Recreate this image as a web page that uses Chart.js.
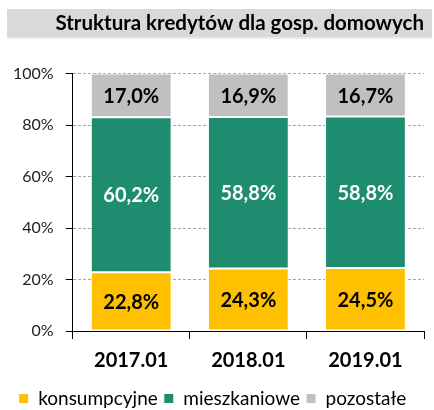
<!DOCTYPE html>
<html>
<head>
<meta charset="utf-8">
<script src="https://cdn.jsdelivr.net/npm/chart.js@4"></script>
<style>
  html, body { margin: 0; padding: 0; background: #fff; }
  #wrap { width: 434px; height: 410px; }
</style>
</head>
<body>
<div id="wrap"><canvas id="chart" width="434" height="410"></canvas></div>
<script>
const years = ['2017.01', '2018.01', '2019.01'];
const konsumpcyjne = [22.8, 24.3, 24.5];
const mieszkaniowe = [60.2, 58.8, 58.8];
const pozostale = [17.0, 16.9, 16.7];
const seriesNames = ['konsumpcyjne', 'mieszkaniowe', 'pozostałe'];
const titleText = 'Struktura kredytów dla gosp. domowych';

const FONT = 'Lato, "Open Sans", sans-serif';

// grey band behind the title
const titleBand = {
    id: 'titleBand',
    beforeDraw(chart) {
        const tb = chart.titleBlock;
        const ctx = chart.ctx;
        ctx.save();
        ctx.fillStyle = '#d9d9d9';
        ctx.fillRect(7, tb.top, chart.width - 9, 28);
        ctx.fillStyle = '#ebebeb';
        ctx.fillRect(7, tb.top + 28, chart.width - 9, 2);
        ctx.restore();
    }
};

// percentage labels in the middle of each segment
const segmentLabels = {
    id: 'segmentLabels',
    afterDatasetsDraw(chart) {
        const ctx = chart.ctx;
        ctx.save();
        ctx.font = 'bold 20px ' + FONT;
        ctx.textAlign = 'center';
        ctx.textBaseline = 'middle';
        chart.data.datasets.forEach((ds, i) => {
            const meta = chart.getDatasetMeta(i);
            ctx.fillStyle = ds.labelColor;
            meta.data.forEach((bar, j) => {
                const txt = ds.data[j].toFixed(1).replace('.', ',') + '%';
                ctx.fillText(txt, bar.x, (bar.y + bar.base) / 2 + 1);
            });
        });
        ctx.restore();
    }
};

new Chart(document.getElementById('chart').getContext('2d'), {
    type: 'bar',
    data: {
        labels: years,
        datasets: [
            { label: seriesNames[0], data: konsumpcyjne, backgroundColor: '#ffc000', labelColor: '#000' },
            { label: seriesNames[1], data: mieszkaniowe, backgroundColor: '#1e8c6e', labelColor: '#fff' },
            { label: seriesNames[2], data: pozostale, backgroundColor: '#c0c0c0', labelColor: '#000' }
        ].map(d => Object.assign(d, {
            borderColor: '#ffffff',
            borderWidth: 1,
            borderSkipped: false,
            barPercentage: 0.69,
            categoryPercentage: 1
        }))
    },
    options: {
        responsive: false,
        animation: false,
        layout: { padding: { left: 1, right: 10, top: 9, bottom: -8 } },
        scales: {
            x: {
                stacked: true,
                border: { color: '#000', width: 1 },
                grid: { drawOnChartArea: false, tickLength: 8, color: '#000' },
                ticks: { color: '#000', font: { family: FONT, size: 20, weight: 'bold' }, padding: 10 }
            },
            y: {
                stacked: true,
                min: 0,
                max: 100,
                border: { color: '#000', width: 1, dash: [3, 2] },
                grid: { color: '#a6a6a6', tickLength: 7, tickColor: '#000', tickBorderDash: [] },
                ticks: {
                    stepSize: 20,
                    color: '#222',
                    font: { family: FONT, size: 16 },
                    padding: 12,
                    callback: v => v + '%'
                }
            }
        },
        plugins: {
            title: {
                display: true,
                text: titleText,
                align: 'end',
                color: '#000',
                font: { family: FONT, size: 20.5, weight: 'bold' },
                padding: { top: 2, bottom: 38 }
            },
            legend: {
                position: 'bottom',
                labels: {
                    color: '#000',
                    font: { family: FONT, size: 19 },
                    boxWidth: 10,
                    boxHeight: 10,
                    padding: 6
                }
            },
            tooltip: { enabled: false }
        }
    },
    plugins: [titleBand, segmentLabels]
});
</script>
</body>
</html>
